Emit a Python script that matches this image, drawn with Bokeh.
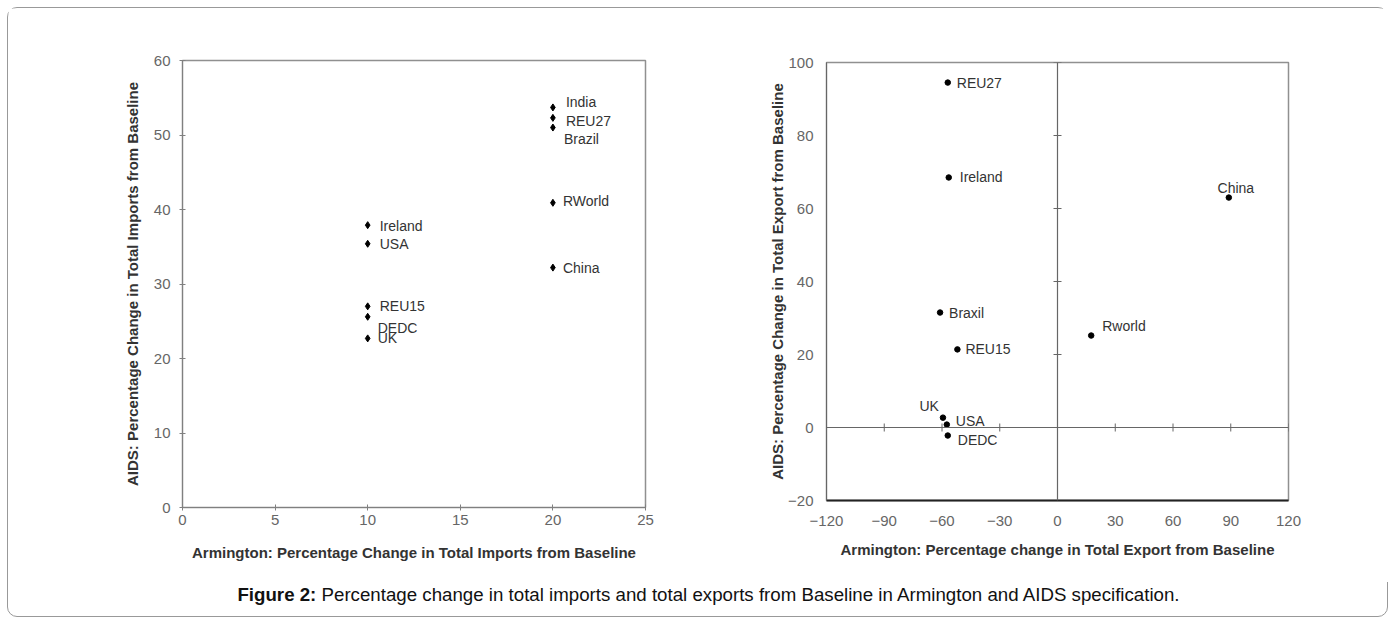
from bokeh.plotting import figure
from bokeh.models import ColumnDataSource, Range1d, FixedTicker, Span, Div
from bokeh.layouts import column, row
from bokeh.core.properties import value
from bokeh.embed import file_html
from bokeh.resources import INLINE

# ---------------- data ----------------
imp_countries = ["India", "REU27", "Brazil", "RWorld", "China", "Ireland", "USA", "REU15", "DEDC", "UK"]
imp_armington = [20, 20, 20, 20, 20, 10, 10, 10, 10, 10]
imp_aids = [53.7, 52.3, 51.0, 40.9, 32.2, 37.9, 35.4, 27.0, 25.6, 22.7]

exp_countries = ["REU27", "Ireland", "Braxil", "REU15", "UK", "USA", "DEDC", "China", "Rworld"]
exp_armington = [-57, -56.5, -61, -52, -59.5, -57.5, -57, 89, 17.5]
exp_aids = [94.5, 68.5, 31.5, 21.4, 2.7, 0.8, -2.2, 63, 25.2]

imp_xticks = [0, 5, 10, 15, 20, 25]
imp_yticks = [0, 10, 20, 30, 40, 50, 60]
exp_xticks = [-120, -90, -60, -30, 0, 30, 60, 90, 120]
exp_yticks = [-20, 0, 20, 40, 60, 80, 100]

# label placement (screen pixels), layout only
imp_dx = [13, 13, 11, 10, 10, 12, 12, 12, 10, 10]
imp_dy = [-5, 3, 11, -2, 0, 1, 0, 0, 11, 0]
imp_align = ["left"] * 10
exp_dx = [9, 11, 9, 8, -4, 9, 10, 7, 11]
exp_dy = [0, 0, 0, 0, -12, -4, 4, -10, -10]
exp_align = ["left", "left", "left", "left", "right", "left", "left", "center", "left"]

FONT = "Liberation Sans"


def style_axes(p):
    for ax in (p.xaxis[0], p.yaxis[0]):
        ax.major_label_text_font = FONT
        ax.major_label_text_font_size = "15px"
        ax.major_label_text_color = "#666666"
        ax.axis_label_text_font = FONT
        ax.axis_label_text_font_size = "15px"
        ax.axis_label_text_font_style = "bold"
        ax.axis_label_text_color = "#333333"
        ax.minor_tick_line_color = None
    p.grid.visible = False


# ---------------- left: imports ----------------
p1 = figure(width=657, height=574, x_range=Range1d(0, 25), y_range=Range1d(0, 60),
            output_backend="svg", toolbar_location=None,
            min_border_left=174, min_border_right=20, min_border_top=52, min_border_bottom=75)
style_axes(p1)
p1.xaxis.ticker = FixedTicker(ticks=imp_xticks)
p1.yaxis.ticker = FixedTicker(ticks=imp_yticks)
p1.xaxis.axis_label = "Armington: Percentage Change in Total Imports from Baseline"
p1.yaxis.axis_label = "AIDS: Percentage Change in Total Imports from Baseline"
for ax in (p1.xaxis[0], p1.yaxis[0]):
    ax.axis_line_color = "#808080"
    ax.major_tick_line_color = "#808080"
    ax.major_tick_in = 3
    ax.major_tick_out = 3
p1.xaxis.major_label_standoff = 4
p1.yaxis.major_label_standoff = 9
p1.xaxis.axis_label_standoff = 16
p1.yaxis.axis_label_standoff = 10
p1.outline_line_color = "#909090"
p1.outline_line_width = 1.5

src1 = ColumnDataSource(dict(x=imp_armington, y=imp_aids, name=imp_countries,
                             dx=imp_dx, dy=imp_dy, align=imp_align))
p1.scatter("x", "y", source=src1, marker="diamond", size=7, color="black")
p1.text("x", "y", text="name", source=src1, x_offset="dx", y_offset="dy",
        text_align="align", text_baseline="middle", text_font=value(FONT),
        text_font_size="14px", text_color="#333333")

# ---------------- right: exports ----------------
p2 = figure(width=724, height=574, x_range=Range1d(-120, 120), y_range=Range1d(-20, 100),
            output_backend="svg", toolbar_location=None,
            min_border_left=161, min_border_right=101, min_border_top=54, min_border_bottom=82)
style_axes(p2)
p2.xaxis.ticker = FixedTicker(ticks=exp_xticks)
p2.yaxis.ticker = FixedTicker(ticks=exp_yticks)
p2.xaxis.axis_label = "Armington: Percentage change in Total Export from Baseline"
p2.yaxis.axis_label = "AIDS: Percentage Change in Total Export from Baseline"
for ax in (p2.xaxis[0], p2.yaxis[0]):
    ax.major_tick_line_color = None
    ax.major_tick_in = 0
    ax.major_tick_out = 0
p2.xaxis.axis_line_color = "#222222"
p2.xaxis.axis_line_width = 2
p2.yaxis.axis_line_color = "#666666"
p2.xaxis.major_label_standoff = 15
p2.yaxis.major_label_standoff = 13
p2.xaxis.axis_label_standoff = 12
p2.yaxis.axis_label_standoff = -1
p2.outline_line_color = "#909090"
p2.outline_line_width = 1.5

p2.add_layout(Span(location=0, dimension="width", line_color="#666666", line_width=1.2))
p2.add_layout(Span(location=0, dimension="height", line_color="#666666", line_width=1.2))
# tick marks drawn on the zero lines (axes cross at the origin)
p2.scatter(exp_xticks, [0] * len(exp_xticks), marker="dash", angle=1.5708, size=8,
           line_color="#666666", line_width=1)
p2.scatter([0] * len(exp_yticks), exp_yticks, marker="dash", size=8,
           line_color="#666666", line_width=1)

src2 = ColumnDataSource(dict(x=exp_armington, y=exp_aids, name=exp_countries,
                             dx=exp_dx, dy=exp_dy, align=exp_align))
p2.scatter("x", "y", source=src2, marker="circle", size=5.5, color="black")
p2.text("x", "y", text="name", source=src2, x_offset="dx", y_offset="dy",
        text_align="align", text_baseline="middle", text_font=value(FONT),
        text_font_size="14px", text_color="#333333")

caption = Div(
    text='<div style="text-align:center;width:1361px;position:relative;left:20px;'
         'font-family:\'Liberation Sans\';font-size:18.7px;color:#111;">'
         '<b>Figure 2:</b> Percentage change in total imports and total exports from '
         'Baseline in Armington and AIDS specification.</div>',
    width=1381, height=34, margin=0)

layout = column(row(column(p1), column(p2)), caption, width=1381,
                styles={"border": "1px solid #999999", "border-radius": "10px",
                        "margin-left": "7px", "margin-top": "7px"})

open("out.html", "w").write(file_html(layout, INLINE))
